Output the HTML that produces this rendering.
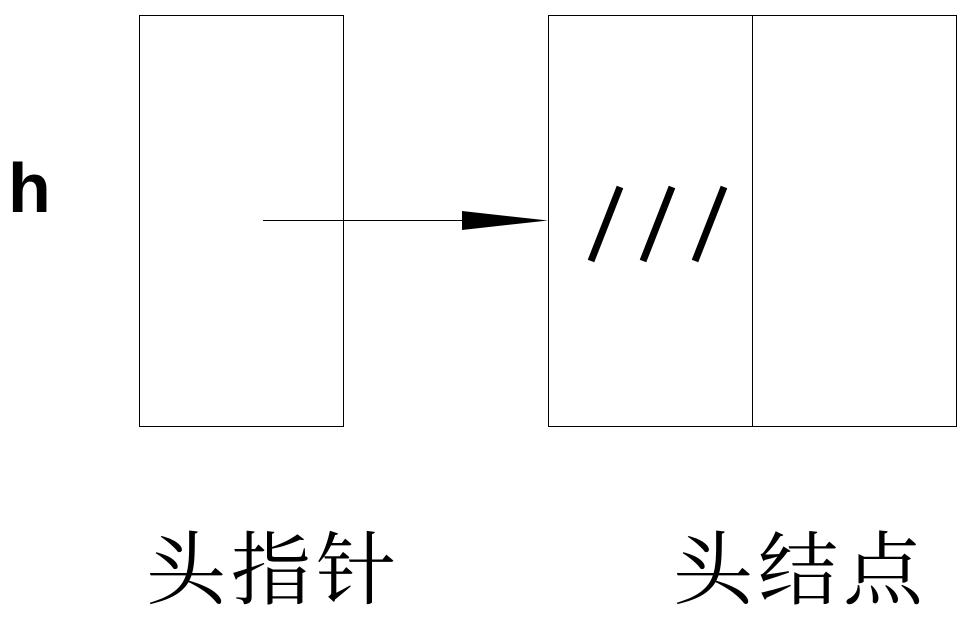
<!DOCTYPE html>
<html><head><meta charset="utf-8"><style>
html,body{margin:0;padding:0;background:#fff;}
</style></head><body>
<svg width="977" height="623" xmlns="http://www.w3.org/2000/svg" style="display:block">
<rect x="139.5" y="15.5" width="204" height="411" fill="none" stroke="#000" stroke-width="1"/>
<rect x="548.5" y="15.5" width="408" height="411" fill="none" stroke="#000" stroke-width="1"/>
<line x1="752.5" y1="15" x2="752.5" y2="426" stroke="#000"/>
<line x1="263" y1="220.5" x2="470" y2="220.5" stroke="#000"/>
<polygon points="462,211 548,220.5 462,230" fill="#000"/>
<g stroke="#000" stroke-width="7" stroke-linecap="butt">
<line x1="620" y1="187" x2="591" y2="261"/>
<line x1="672" y1="187" x2="643" y2="261"/>
<line x1="724" y1="187" x2="695" y2="261"/>
</g>
<text x="8" y="212" font-family="Liberation Sans, sans-serif" font-size="70" font-weight="bold" fill="#000">h</text>
<text x="146" y="598" font-family="Liberation Sans, 'Noto Serif CJK SC', serif" font-size="80" fill="#000" textLength="250">头指针</text>
<text x="673" y="598" font-family="Liberation Sans, 'Noto Serif CJK SC', serif" font-size="80" fill="#000" textLength="250">头结点</text>
</svg>
</body></html>
